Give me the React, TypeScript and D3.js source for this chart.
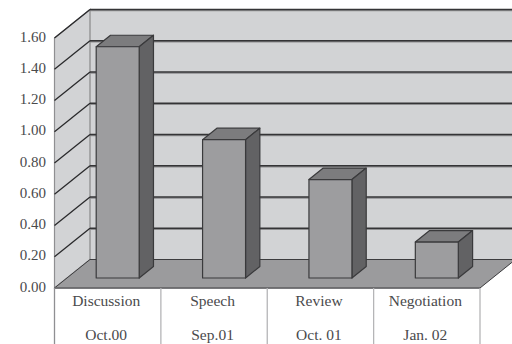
import React from "react";
import * as d3 from "d3";

const categories = ["Discussion", "Speech", "Review", "Negotiation"];
const dates = ["Oct.00", "Sep.01", "Oct. 01", "Jan. 02"];
const values = [1.48, 0.885, 0.63, 0.23];
const ticks = [0, 0.2, 0.4, 0.6, 0.8, 1.0, 1.2, 1.4, 1.6];

const W = 512;
const H = 344;
const left = 54.5;
const right = 480;
const floorY = 288;
const topY = 38;
const depthX = 35.5;
const depthY = 28.5;

const pts = (p: [number, number][]) => p.map((q) => q.join(",")).join(" ");
const ink = "#3a3a3c";

export default function App() {
  const y = d3.scaleLinear().domain([0, 1.6]).range([floorY, topY]);
  const x = d3.scaleBand<string>().domain(categories).range([left, right]).paddingInner(0.596).paddingOuter(0.298);
  const barLift = 10;
  const barShift = 10;
  const sideX = 14.3;
  const sideY = 11.5;

  return (
    <svg
      width={W}
      height={H}
      style={{ position: "absolute", left: 0, top: 0, background: "#fff", fontFamily: "'Liberation Serif', serif" }}
    >
      {/* back wall */}
      <rect x={left + depthX} y={topY - depthY} width={W} height={floorY - topY} fill="#d2d3d5" />
      {/* side wall */}
      <polygon
        points={pts([
          [left, floorY],
          [left, topY],
          [left + depthX, topY - depthY],
          [left + depthX, floorY - depthY],
        ])}
        fill="#d2d3d5"
        stroke="#8f8f92"
        strokeWidth={1.2}
      />
      <line x1={left + depthX} x2={left + depthX} y1={topY - depthY} y2={floorY - depthY} stroke="#a4a4a6" strokeWidth={1.5} />

      {/* gridlines across both walls */}
      {ticks.slice(1).map((t) => (
        <g key={t}>
          <line x1={left + depthX} x2={W} y1={y(t) - depthY + 1} y2={y(t) - depthY + 1} stroke="#8e8e90" strokeWidth={1.5} />
          <line x1={left + depthX} x2={W} y1={y(t) - depthY} y2={y(t) - depthY} stroke="#343436" strokeWidth={1.4} />
          <line x1={left} x2={left + depthX} y1={y(t)} y2={y(t) - depthY} stroke="#2a2a2c" strokeWidth={1.3} />
        </g>
      ))}

      {/* floor */}
      <polygon
        points={pts([
          [left, floorY],
          [left + depthX, floorY - depthY],
          [right + depthX, floorY - depthY],
          [right, floorY],
        ])}
        fill="#9b9b9d"
        stroke="#3c3c3e"
        strokeWidth={1}
      />

      {/* table lines under the floor */}
      <line x1={left} x2={right} y1={floorY} y2={floorY} stroke="#6e6e70" strokeWidth={1.5} />
      {d3.range(0, categories.length + 1).map((i) => {
        const px = left + (i * (right - left)) / categories.length;
        return <line key={i} x1={px} x2={px} y1={floorY} y2={H} stroke={i === 0 ? "#8f8f92" : "#b5b5b7"} strokeWidth={1.3} />;
      })}

      {/* bars */}
      {categories.map((c, i) => {
        const x0 = (x(c) as number) + barShift;
        const x1 = x0 + x.bandwidth();
        const base = floorY - barLift;
        const top = y(values[i]) - barLift;
        return (
          <g key={c} stroke={ink} strokeWidth={1.2} strokeLinejoin="round">
            <polygon
              points={pts([
                [x0, top],
                [x0 + sideX, top - sideY],
                [x1 + sideX, top - sideY],
                [x1, top],
              ])}
              fill="#7c7c7e"
            />
            <polygon
              points={pts([
                [x1, top],
                [x1 + sideX, top - sideY],
                [x1 + sideX, base - sideY],
                [x1, base],
              ])}
              fill="#626264"
            />
            <rect x={x0} y={top} width={x.bandwidth()} height={base - top} fill="#9d9d9f" />
          </g>
        );
      })}

      {/* value axis labels */}
      {ticks.map((t) => (
        <text key={t} x={46} y={y(t) - 1.5} dy="0.34em" textAnchor="end" fontSize={15} fill="#4a4a4c">
          {t.toFixed(2)}
        </text>
      ))}

      {/* category and date rows */}
      {categories.map((c, i) => {
        const cx = left + ((i + 0.5) * (right - left)) / categories.length - 1.5;
        return (
          <g key={c} textAnchor="middle" fontSize={15.5} fill="#4a4a4c">
            <text x={cx} y={306}>{c}</text>
            <text x={cx} y={340}>{dates[i]}</text>
          </g>
        );
      })}
    </svg>
  );
}
